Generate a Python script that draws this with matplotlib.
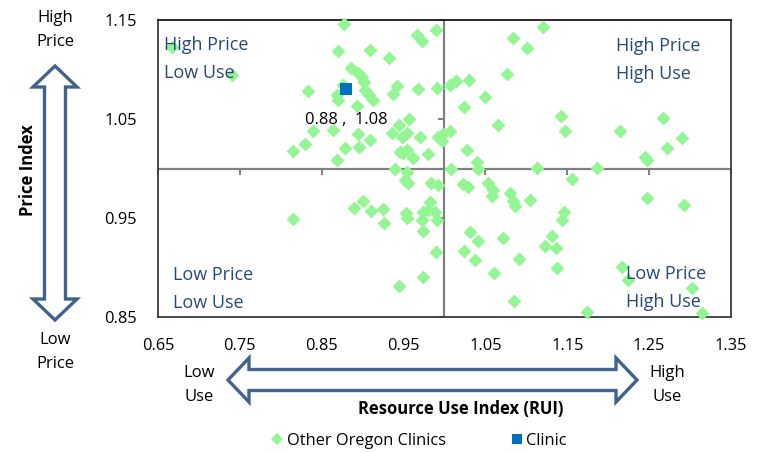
import matplotlib
matplotlib.use("Agg")
import matplotlib.pyplot as plt
from matplotlib.patches import Polygon
from matplotlib.lines import Line2D

plt.rcParams['font.family'] = ['Open Sans', 'DejaVu Sans']

# ---- data ----
other_rui = [0.667, 0.740, 0.877, 0.870, 0.909, 0.932, 0.886, 0.894, 0.899, 0.902,
             0.876, 0.833, 0.869, 0.903, 0.908, 0.913, 0.870, 0.942, 0.937, 0.968,
             0.991, 0.966, 0.973, 0.990, 0.893, 0.957, 0.944, 0.839, 0.864, 0.894,
             0.909, 0.936, 0.948, 0.954, 0.970, 0.992, 0.997, 0.896, 0.878, 0.830,
             0.815, 0.946, 0.949, 0.954, 0.980, 0.962, 0.869,
             1.007, 1.014, 1.030, 1.024, 1.027, 1.007, 0.998, 1.049, 1.065, 1.076,
             1.084, 1.101, 1.120, 1.142, 1.147, 1.214, 1.267, 1.290, 1.272, 1.245,
             1.247, 1.040, 1.041, 1.008, 1.113, 1.186,
             0.940, 0.954, 0.952, 0.955, 0.983, 0.992, 0.900, 0.910, 0.889, 0.925,
             0.926, 0.953, 0.954, 0.982, 0.974, 0.980, 0.988, 0.991, 0.973, 0.974,
             0.990, 0.815, 0.974, 0.944,
             1.023, 1.029, 1.053, 1.059, 1.058, 1.080, 1.084, 1.086, 1.104, 1.156,
             1.146, 1.144, 1.247, 1.293, 1.031, 1.041, 1.071, 1.131, 1.123, 1.136,
             1.024, 1.037, 1.091, 1.060, 1.137, 1.217, 1.224, 1.302, 1.085, 1.174,
             1.315]
other_price = [1.123, 1.094, 1.146, 1.119, 1.120, 1.112, 1.102, 1.096, 1.092, 1.087,
               1.084, 1.078, 1.074, 1.079, 1.074, 1.069, 1.069, 1.083, 1.075, 1.080,
               1.081, 1.135, 1.129, 1.140, 1.063, 1.050, 1.044, 1.038, 1.039, 1.035,
               1.029, 1.036, 1.032, 1.036, 1.032, 1.032, 1.028, 1.022, 1.021, 1.025,
               1.018, 1.017, 1.016, 1.019, 1.015, 1.011, 1.009,
               1.084, 1.088, 1.089, 1.062, 1.019, 1.038, 1.035, 1.072, 1.044, 1.095,
               1.132, 1.122, 1.143, 1.053, 1.038, 1.038, 1.051, 1.031, 1.021, 1.012,
               1.009, 1.007, 1.000, 1.000, 1.001, 1.001,
               1.000, 0.996, 0.988, 0.985, 0.985, 0.983, 0.967, 0.957, 0.960, 0.959,
               0.945, 0.955, 0.950, 0.966, 0.956, 0.958, 0.956, 0.948, 0.948, 0.937,
               0.916, 0.949, 0.890, 0.881,
               0.984, 0.981, 0.985, 0.978, 0.972, 0.975, 0.967, 0.962, 0.968, 0.989,
               0.956, 0.948, 0.970, 0.963, 0.936, 0.927, 0.930, 0.932, 0.922, 0.920,
               0.917, 0.908, 0.909, 0.894, 0.900, 0.901, 0.887, 0.879, 0.866, 0.855,
               0.854]
clinic_rui = [0.88]
clinic_price = [1.08]
x_ticks = [0.65, 0.75, 0.85, 0.95, 1.05, 1.15, 1.25, 1.35]
y_ticks = [0.85, 0.95, 1.05, 1.15]
x_labels = ["0.65", "0.75", "0.85", "0.95", "1.05", "1.15", "1.25", "1.35"]
y_labels = ["0.85", "0.95", "1.05", "1.15"]
quad_labels = ["High Price\nLow Use", "High Price\nHigh Use",
               "Low Price\nLow Use", "Low Price\nHigh Use"]

GREEN = '#93F593'
BLUE = '#0070C0'
QCOL = '#27497A'
ARROW = '#41618F'
W, H = 768, 453

fig = plt.figure(figsize=(W / 100, H / 100), dpi=100)
ax = fig.add_axes([158 / W, 1 - 317 / H, (731 - 158) / W, (317 - 20) / H])
ax.set_xlim(0.65, 1.35)
ax.set_ylim(0.85, 1.15)

# crossing lines at 1.0 with their small ticks
ax.axvline(1.0, color='#808080', lw=1.6, zorder=1)
ax.axhline(1.0, color='#808080', lw=1.6, zorder=1)
ax.plot([1.0] * len(y_ticks), y_ticks, ls='none', marker=0, ms=4.5,
        mec='#808080', mew=1.4, zorder=1, clip_on=False)
ax.plot(x_ticks, [1.0] * len(x_ticks), ls='none', marker=3, ms=4.5,
        mec='#808080', mew=1.4, zorder=1, clip_on=False)

ax.scatter(other_rui, other_price, marker='D', s=50, color=GREEN,
           linewidths=0, zorder=3, clip_on=False)
ax.scatter(clinic_rui, clinic_price, marker='s', s=75, color=BLUE,
           linewidths=0, zorder=4)
ax.annotate(f"{clinic_rui[0]:.2f} ,  {clinic_price[0]:.2f}",
            (clinic_rui[0], clinic_price[0]), xytext=(0, -22),
            textcoords='offset points', ha='center', va='center',
            fontsize=11.8, color='black', zorder=5)

for s in ax.spines.values():
    s.set_color('#3C3C3C')
    s.set_linewidth(1.3)
ax.spines['top'].set_color('#1A1A1A')

ax.set_xticks(x_ticks, x_labels)
ax.set_yticks(y_ticks, y_labels)
ax.tick_params(length=0, labelsize=11.8, pad=15)

# quadrant labels
qpos = [(164, 59), (616, 60), (173, 289), (626, 288)]
for (px, py), txt in zip(qpos, quad_labels):
    fig.text(px / W, 1 - py / H, txt, ha='left', va='center', color=QCOL,
             fontsize=13, linespacing=1.75, zorder=6)

# block double arrows (outline only)
def darrow(x0, y0, x1, y1, shaft=21, head=44, hlen=21):
    import math
    dx, dy = x1 - x0, y1 - y0
    L = math.hypot(dx, dy)
    ux, uy = dx / L, dy / L
    nx, ny = -uy, ux
    pts_local = [(0, 0), (hlen, head / 2), (hlen, shaft / 2), (L - hlen, shaft / 2),
                 (L - hlen, head / 2), (L, 0), (L - hlen, -head / 2),
                 (L - hlen, -shaft / 2), (hlen, -shaft / 2), (hlen, -head / 2)]
    pts = []
    for a, b in pts_local:
        px = x0 + a * ux + b * nx
        py = y0 + a * uy + b * ny
        pts.append((px / W, 1 - py / H))
    fig.patches.append(Polygon(pts, closed=True, transform=fig.transFigure,
                               facecolor='white', edgecolor=ARROW, lw=2.4,
                               joinstyle='miter'))

darrow(55, 66, 55, 320)
darrow(228, 380, 637, 380)

fig.text(55 / W, 1 - 30 / H, "High\nPrice", ha='center', va='center',
         fontsize=12, linespacing=1.7)
fig.text(55 / W, 1 - 352 / H, "Low\nPrice", ha='center', va='center',
         fontsize=12, linespacing=1.7)
fig.text(28 / W, 1 - 170 / H, "Price Index", ha='center', va='center',
         rotation=90, fontsize=12, fontweight='bold')
fig.text(199 / W, 1 - 385 / H, "Low\nUse", ha='center', va='center',
         fontsize=12, linespacing=1.7)
fig.text(667 / W, 1 - 385 / H, "High\nUse", ha='center', va='center',
         fontsize=12, linespacing=1.7)
fig.text(461 / W, 1 - 409 / H, "Resource Use Index (RUI)", ha='center',
         va='center', fontsize=12, fontweight='bold')

handles = [Line2D([], [], ls='none', marker='D', ms=6, color=GREEN, mew=0),
           Line2D([], [], ls='none', marker='s', ms=7, color=BLUE, mew=0)]
fig.legend(handles, ["Other Oregon Clinics", "Clinic"], loc='center',
           bbox_to_anchor=(418 / W, 1 - 441 / H), ncol=2, frameon=False,
           fontsize=11.8, handletextpad=0.1, columnspacing=3.8,
           handlelength=1.0)

fig.savefig("out.png", dpi=100)
